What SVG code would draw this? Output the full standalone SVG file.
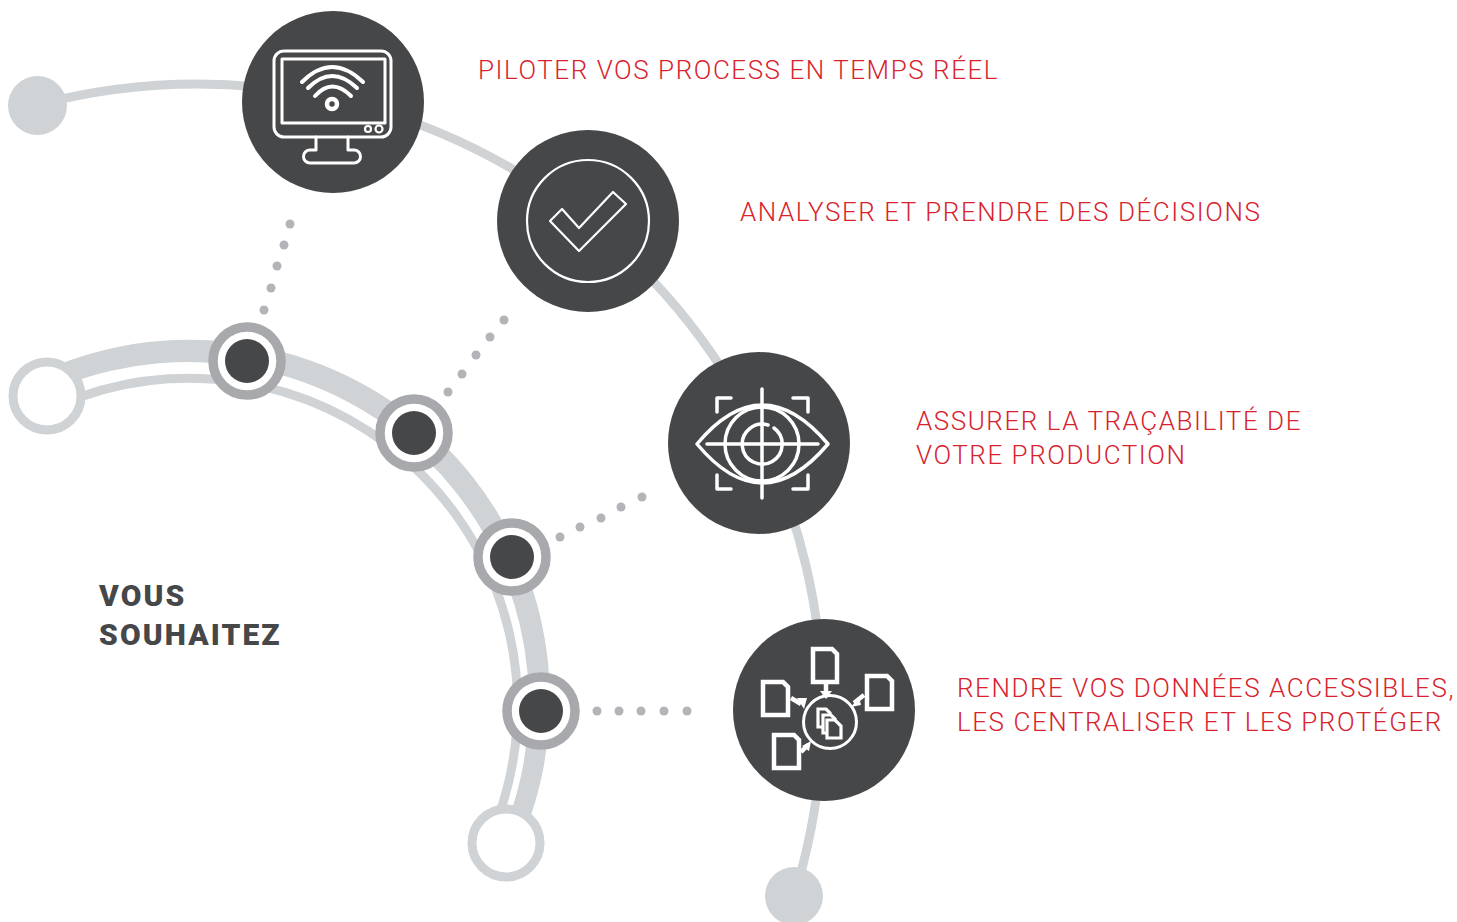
<svg xmlns="http://www.w3.org/2000/svg" width="1457" height="922" viewBox="0 0 1457 922">
<style>
.arc{fill:none;stroke:#cfd3d5}
.dark{fill:#464749}
.ring{fill:#fff;stroke:#a7a9ac;stroke-width:9.5}
.hollow{fill:#fff;stroke:#cfd3d5;stroke-width:9}
.dot{fill:#b3b4b8}
.ic{fill:none;stroke:#fff;stroke-width:3;stroke-linecap:round;stroke-linejoin:round}
.eye{stroke-width:3.500}
.thin{stroke-width:2.200}
.wifi{stroke-width:4}
.doc{fill:#464749;stroke:#fff;stroke-width:4.5;stroke-linejoin:miter}
.mini{stroke-width:3.200}
.ar{fill:none;stroke:#fff;stroke-width:4.500}
.red{font-family:"Roboto","Liberation Sans",sans-serif;font-weight:300;font-size:26px;letter-spacing:1.55px;fill:#d8222e}
.head{font-family:"Roboto","Liberation Sans",sans-serif;font-weight:900;font-size:30px;letter-spacing:2.1px;fill:#464749}
</style>
<g id="connectors">
<path class="arc" stroke-width="9" d="M37 105A625 625 0 0 1 794 896"/>
<path fill="#cfd3d5" d="M60 364A360 360 0 0 1 531 815L510 815A341 341 0 0 0 65 385Z"/>
<path class="arc" stroke-width="9" d="M80 397A328 328 0 0 1 499 815"/>
<g id="dots-1" class="dot"><circle cx="290" cy="224" r="4.5"/><circle cx="284" cy="245" r="4.5"/><circle cx="277" cy="266" r="4.5"/><circle cx="271" cy="288" r="4.5"/><circle cx="264" cy="310" r="4.5"/></g>
<g id="dots-2" class="dot"><circle cx="504" cy="320" r="4.5"/><circle cx="490" cy="337" r="4.5"/><circle cx="476" cy="355" r="4.5"/><circle cx="462" cy="374" r="4.5"/><circle cx="448" cy="392" r="4.5"/></g>
<g id="dots-3" class="dot"><circle cx="642" cy="497" r="4.5"/><circle cx="621" cy="507" r="4.5"/><circle cx="601" cy="518" r="4.5"/><circle cx="580" cy="527" r="4.5"/><circle cx="560" cy="537" r="4.5"/></g>
<g id="dots-4" class="dot"><circle cx="597" cy="711" r="4.5"/><circle cx="619" cy="711" r="4.5"/><circle cx="641" cy="711" r="4.5"/><circle cx="664" cy="711" r="4.5"/><circle cx="687" cy="711" r="4.5"/></g>
</g>
<g id="end-top"><circle cx="37.500" cy="105.500" r="29.500" fill="#cfd3d5"/></g>
<g id="end-bottom"><circle cx="794" cy="896" r="29" fill="#cfd3d5"/></g>
<g id="hollow-left"><circle class="hollow" cx="47" cy="396" r="34"/></g>
<g id="hollow-bottom"><circle class="hollow" cx="506" cy="843" r="34"/></g>
<g id="ring-1"><circle class="ring" cx="247" cy="361" r="34"/><circle class="dark" cx="247" cy="361" r="22"/></g>
<g id="ring-2"><circle class="ring" cx="414" cy="433" r="34"/><circle class="dark" cx="414" cy="433" r="22"/></g>
<g id="ring-3"><circle class="ring" cx="512" cy="557" r="34"/><circle class="dark" cx="512" cy="557" r="22"/></g>
<g id="ring-4"><circle class="ring" cx="541" cy="711" r="34"/><circle class="dark" cx="541" cy="711" r="22"/></g>
<g id="node-monitor">
<circle class="dark" cx="333" cy="102" r="91"/>
<rect class="ic" x="274" y="51" width="117" height="86" rx="10"/>
<rect class="ic" x="282" y="59" width="103" height="64"/>
<path class="ic" d="M316 137V150H310A6.500 6.500 0 0 0 310 163H354A6.500 6.500 0 0 0 354 150H348V137"/>
<circle class="ic thin" cx="368" cy="129" r="3"/><circle class="ic thin" cx="379" cy="129" r="3.500"/>
<circle cx="332" cy="104" r="5" fill="none" stroke="#fff" stroke-width="4.500"/>
<path class="ic wifi" d="M302 82Q332 52 363 82M308 88Q332 64 357 88M315 96Q332 77 351 96"/>
</g>
<g id="node-check">
<circle class="dark" cx="588" cy="221" r="91"/>
<circle class="ic thin" cx="588" cy="221" r="61"/>
<path class="ic thin" d="M550 221L562 209L579 228L613 192L626 204L579 251Z"/>
</g>
<g id="node-eye">
<circle class="dark" cx="759" cy="443" r="91"/>
<path class="ic eye" d="M762 389V498M707 444H818M697 444Q762 366 828 444Q762 522 697 444Z"/>
<circle class="ic eye" cx="762" cy="444" r="37"/>
<path class="ic eye" d="M774 428A20 20 0 1 1 768 425"/>
<path class="ic eye" d="M731 398H717V412M793 398H808V412M717 475V489H731M808 475V489H793"/>
</g>
<g id="node-docs">
<circle class="dark" cx="824" cy="710" r="91"/>
<path class="doc" d="M813 649H832L837 654V682H813Z"/>
<path class="doc" d="M867 676H887L892 681V709H867Z"/>
<path class="doc" d="M763 682H783L788 687V715H763Z"/>
<path class="doc" d="M774 735H794L799 740V768H774Z"/>
<circle class="ic" cx="830" cy="722" r="26.500"/>
<path class="doc mini" d="M818 709H826L830 713V727H818Z"/>
<path class="doc mini" d="M823 715H831L835 719V733H823Z"/>
<path class="doc mini" d="M827 720H835L841 726V738H827Z"/>
<path class="ar" d="M826 684V693M791 698L801 704M864 695L854 703M801 752L808 745"/>
<path d="M820 691H832L826 699ZM797 698L807 698L804 709ZM859 697L851 707L861 705ZM802 746L811 741L809 751Z" fill="#fff"/>
</g>
<g id="label-1"><text class="red" x="478" y="79">PILOTER VOS PROCESS EN TEMPS RÉEL</text></g>
<g id="label-2"><text class="red" x="740" y="221">ANALYSER ET PRENDRE DES DÉCISIONS</text></g>
<g id="label-3"><text class="red" x="916" y="430">ASSURER LA TRAÇABILITÉ DE</text><text class="red" x="916" y="464">VOTRE PRODUCTION</text></g>
<g id="label-4"><text class="red" x="957" y="697">RENDRE VOS DONNÉES ACCESSIBLES,</text><text class="red" x="957" y="731">LES CENTRALISER ET LES PROTÉGER</text></g>
<g id="title"><text class="head" x="99" y="606">VOUS</text><text class="head" x="99" y="645">SOUHAITEZ</text></g>
</svg>
